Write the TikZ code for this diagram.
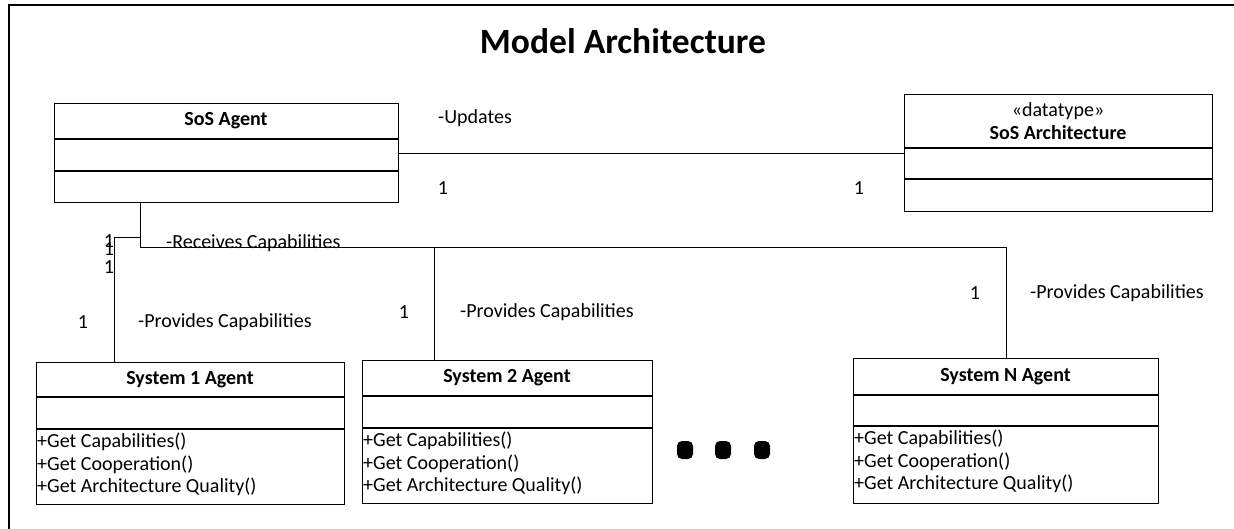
\documentclass[tikz,border=0pt]{standalone}
\usepackage{fontspec}
\setmainfont{Carlito}
\usetikzlibrary{calc}

% class box: #1 name, #2 left, #3 top, #4 right, #5 header bottom,
% #6 attribute bottom, #7 bottom, #8 header text, #9 operations
\newcommand\umlclass[9]{%
  \node[classbox, minimum width={(#4-#2)*1pt}, minimum height={(#7-#3)*1pt}] (#1) at (#2,#3) {};
  \draw[rule] (#2,#5) -- (#4,#5);
  \draw[rule] (#2,#6) -- (#4,#6);
  \node[headtext] (#1-title) at ({(#2+#4)/2},{(#3+#5)/2}) {#8};
  \node[optext] (#1-ops) at ({#2+1},{#6+4}) {#9};
}

\tikzset{
  classbox/.style={draw, line width=1.4pt, inner sep=0pt, anchor=north west},
  rule/.style={line width=1.4pt},
  conn/.style={line width=0.9pt},
  lbl/.style={font=\fontsize{20}{24}\selectfont, inner sep=0pt},
  headtext/.style={font=\fontsize{20}{23}\selectfont\bfseries, align=center, inner sep=0pt},
  optext/.style={anchor=north west, align=left, inner sep=0pt,
    font=\fontsize{20}{22.5}\selectfont},
  dot/.style={fill=black, rounded corners=5pt},
}

\begin{document}
\begin{tikzpicture}[x=1pt, y=-1pt]
\useasboundingbox (0,0) rectangle (1234,529);

% outer frame
\draw[line width=1.2pt] (9,540) -- (9,5) -- (1245,5);

\node[font=\fontsize{35.5}{40}\selectfont\bfseries, inner sep=0pt] (title) at (623,41) {Model Architecture};

\umlclass{sos}{54}{103}{398}{139}{171}{202}{SoS Agent}{}
\umlclass{arch}{904}{94}{1212}{148}{179}{211}{\mdseries «datatype»\\SoS Architecture}{}
\umlclass{s1}{36}{362}{344}{397}{429}{504}{System 1 Agent}{+Get Capabilities()\\+Get Cooperation()\\+Get Architecture Quality()}
\umlclass{s2}{362}{360}{652}{396}{428}{503}{System 2 Agent}{+Get Capabilities()\\+Get Cooperation()\\+Get Architecture Quality()}
\umlclass{sN}{853}{358}{1158}{395}{426}{503}{System N Agent}{+Get Capabilities()\\+Get Cooperation()\\+Get Architecture Quality()}

% association SoS Agent -- SoS Architecture
\draw[conn] (sos.east) -- (arch.west);
\node[lbl, anchor=west] (upd) at (438,118) {-Updates};
\node[lbl] (m1) at (443,188) {1};
\node[lbl] (m2) at (859,188) {1};

% associations SoS Agent -- system agents
\coordinate (j) at (140,247);
\coordinate (k) at (140,237);
\coordinate (b1) at (114,237);
\coordinate (b2) at (434,247);
\draw[conn] (sos.south -| j) -- (j) -- (j -| sN.north) -- (sN.north);
\draw[conn] (k) -- (b1) -- (s1.north -| b1);
\draw[conn] (b2) -- (s2.north -| b2);

\node[lbl] (r1) at (109,241) {1};
\node[lbl] (r2) at (109,249) {1};
\node[lbl] (r3) at (109,267) {1};
\node[lbl, anchor=west] (rec) at (166,243) {-Receives Capabilities};

\node[lbl] (p1n) at (83,322) {1};
\node[lbl, anchor=west] (p1) at (138,322) {-Provides Capabilities};
\node[lbl] (p2n) at (404,312) {1};
\node[lbl, anchor=west] (p2) at (460,312) {-Provides Capabilities};
\node[lbl] (pNn) at (975,293) {1};
\node[lbl, anchor=west] (pN) at (1030,293) {-Provides Capabilities};

% ellipsis between the system agents
\fill[dot] (677,441) rectangle (693,459);
\fill[dot] (715,441) rectangle (731,459);
\fill[dot] (754,441) rectangle (770,459);
\end{tikzpicture}
\end{document}
